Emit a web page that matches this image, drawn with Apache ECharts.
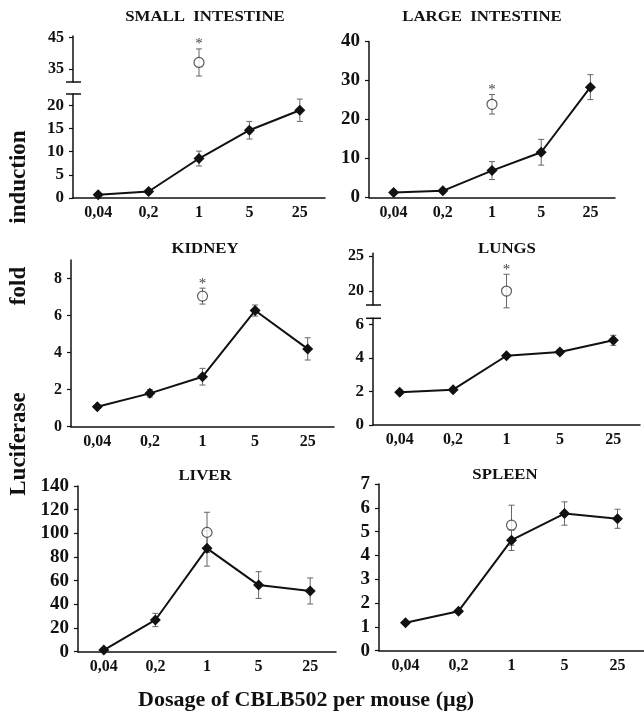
<!DOCTYPE html>
<html>
<head>
<meta charset="utf-8">
<script src="https://cdn.jsdelivr.net/npm/echarts@6/dist/echarts.min.js"></script>
<style>
  html, body { margin: 0; padding: 0; background: #fff; }
  #chart { width: 644px; height: 715px; }
</style>
</head>
<body>
<div id="chart"></div>
<script>
// dose groups, shared by every organ
const doses = ['0,04', '0,2', '1', '5', '25'];

// small intestine
const siMean = [0.7, 1.4, 8.5, 14.6, 18.9];
const siErr = [0, 0, 1.6, 1.9, 2.4];
const siCtrl = [null, null, 37.1, null, null];
const siCtrlErr = [null, null, 4.3, null, null];
const siTicks = [0, 5, 10, 15, 20];
const siUpperTicks = [35, 45];

// large intestine
const liMean = [1.3, 1.7, 6.9, 11.6, 28.3];
const liErr = [0, 0, 2.3, 3.3, 3.2];
const liCtrl = [null, null, 23.9, null, null];
const liCtrlErr = [null, null, 2.5, null, null];
const liTicks = [0, 10, 20, 30, 40];

// kidney
const kidMean = [1.08, 1.8, 2.7, 6.27, 4.2];
const kidErr = [0, 0.2, 0.45, 0.3, 0.6];
const kidCtrl = [null, null, 7.05, null, null];
const kidCtrlErr = [null, null, 0.43, null, null];
const kidTicks = [0, 2, 4, 6, 8];

// lungs
const lungMean = [1.95, 2.1, 4.12, 4.35, 5.04];
const lungErr = [0, 0.1, 0.1, 0.15, 0.3];
const lungCtrl = [null, null, 20, null, null];
const lungCtrlErr = [null, null, 2.4, null, null];
const lungTicks = [0, 2, 4, 6];
const lungUpperTicks = [20, 25];

// liver
const liverMean = [1.4, 26.8, 87.3, 56.3, 51.3];
const liverErr = [0, 5.6, 15, 11.3, 11];
const liverCtrl = [null, null, 100.8, null, null];
const liverCtrlErr = [null, null, 17, null, null];
const liverTicks = [0, 20, 40, 60, 80, 100, 120, 140];

// spleen
const spleenMean = [1.17, 1.66, 4.64, 5.76, 5.54];
const spleenErr = [0, 0, 0.43, 0.49, 0.4];
const spleenCtrl = [null, null, 5.27, null, null];
const spleenCtrlErr = [null, null, 0.84, null, null];
const spleenTicks = [0, 1, 2, 3, 4, 5, 6, 7];

const SERIF = '"Liberation Serif", "Times New Roman", serif';
const INK = '#111';

// one entry per small chart: data + where it sits on the page
const panels = [
  { title: 'SMALL  INTESTINE', mean: siMean, err: siErr, ctrl: siCtrl, ctrlErr: siCtrlErr, star: true,
    ticks: siTicks, yMax: 22.4, yFont: 17, xFont: 16,
    box: { left: 73, top: 94, width: 252, height: 104 },
    upper: { top: 36, height: 46, min: 30.9, max: 45.5, ticks: siUpperTicks, font: 16 },
    titlePos: [205, 16] },
  { title: 'LARGE  INTESTINE', mean: liMean, err: liErr, ctrl: liCtrl, ctrlErr: liCtrlErr, star: true,
    ticks: liTicks, yMax: 40, yFont: 19, xFont: 16,
    box: { left: 369, top: 41.5, width: 246, height: 156 },
    titlePos: [482, 16] },
  { title: 'KIDNEY', mean: kidMean, err: kidErr, ctrl: kidCtrl, ctrlErr: kidCtrlErr, star: true,
    ticks: kidTicks, yMax: 9, yFont: 16, xFont: 16,
    box: { left: 71, top: 260, width: 263, height: 166.7 },
    titlePos: [205, 248] },
  { title: 'LUNGS', mean: lungMean, err: lungErr, ctrl: lungCtrl, ctrlErr: lungCtrlErr, star: true,
    ticks: lungTicks, yMax: 6.35, yFont: 17, xFont: 16,
    box: { left: 373, top: 318.3, width: 267, height: 106.7 },
    upper: { top: 253.3, height: 51.7, min: 18, max: 25.4, ticks: lungUpperTicks, font: 16 },
    titlePos: [507, 248] },
  { title: 'LIVER', mean: liverMean, err: liverErr, ctrl: liverCtrl, ctrlErr: liverCtrlErr, star: false,
    ticks: liverTicks, yMax: 140, yFont: 19, xFont: 16,
    box: { left: 78, top: 486, width: 258, height: 165.7 },
    titlePos: [205, 475] },
  { title: 'SPLEEN', mean: spleenMean, err: spleenErr, ctrl: spleenCtrl, ctrlErr: spleenCtrlErr, star: false,
    ticks: spleenTicks, yMax: 7, yFont: 19, xFont: 16,
    box: { left: 379, top: 484, width: 268, height: 166.7 },
    titlePos: [505, 474] }
];

// vertical error bar with small caps, optional asterisk above it
function errorBar(withStar) {
  return function (params, api) {
    const i = api.value(0), v = api.value(1), e = api.value(2);
    if (!e) return null;
    const hi = api.coord([i, v + e]);
    const lo = api.coord([i, v - e]);
    const st = { stroke: '#666', lineWidth: 1 };
    const kids = [
      { type: 'line', shape: { x1: hi[0], y1: hi[1], x2: lo[0], y2: lo[1] }, style: st },
      { type: 'line', shape: { x1: hi[0] - 3, y1: hi[1], x2: hi[0] + 3, y2: hi[1] }, style: st },
      { type: 'line', shape: { x1: lo[0] - 3, y1: lo[1], x2: lo[0] + 3, y2: lo[1] }, style: st }
    ];
    if (withStar) {
      kids.push({ type: 'text', style: { text: '*', x: hi[0], y: hi[1] + 3, align: 'center',
        verticalAlign: 'bottom', fontSize: 15, fontFamily: SERIF, fill: '#444' } });
    }
    return { type: 'group', children: kids };
  };
}

function toTriples(vals, errs) {
  const out = [];
  vals.forEach((v, i) => { if (v != null) out.push([i, v, errs[i]]); });
  return out;
}

const option = { animation: false, backgroundColor: '#fff', grid: [], xAxis: [], yAxis: [], series: [], graphic: [] };

function yAxisDef(gi, min, max, ticks, font) {
  return {
    type: 'value', gridIndex: gi, min: min, max: max,
    splitLine: { show: false },
    axisLine: { show: true, lineStyle: { color: INK, width: 1.5 } },
    axisTick: { show: true, length: 4, customValues: ticks, lineStyle: { color: INK, width: 1.2 } },
    axisLabel: { customValues: ticks, fontFamily: SERIF, fontWeight: 'bold', fontSize: font, color: INK, margin: 9 }
  };
}

panels.forEach(p => {
  const gi = option.grid.length;
  option.grid.push({ left: p.box.left, top: p.box.top, width: p.box.width, height: p.box.height });
  option.xAxis.push({
    type: 'category', gridIndex: gi, data: doses, boundaryGap: true,
    axisLine: { lineStyle: { color: INK, width: 1.5 } },
    axisTick: { length: 4, lineStyle: { color: INK, width: 1.2 } },
    axisLabel: { fontFamily: SERIF, fontWeight: 'bold', fontSize: p.xFont, color: INK, margin: 7 }
  });
  option.yAxis.push(yAxisDef(gi, 0, p.yMax, p.ticks, p.yFont));

  let ci = gi;
  if (p.upper) {
    ci = option.grid.length;
    option.grid.push({ left: p.box.left, top: p.upper.top, width: p.box.width, height: p.upper.height });
    option.xAxis.push({ type: 'category', gridIndex: ci, data: doses, boundaryGap: true, show: false });
    option.yAxis.push(yAxisDef(ci, p.upper.min, p.upper.max, p.upper.ticks, p.upper.font));
    // break marks across the y axis
    const bx = p.box.left;
    [p.upper.top + p.upper.height, p.box.top].forEach(y => {
      option.graphic.push({ type: 'line', shape: { x1: bx - 7, y1: y, x2: bx + 8, y2: y },
        style: { stroke: INK, lineWidth: 1.5 } });
    });
  }

  option.series.push({
    type: 'custom', xAxisIndex: gi, yAxisIndex: gi, clip: false, z: 2,
    renderItem: errorBar(false), data: toTriples(p.mean, p.err)
  });
  option.series.push({
    type: 'line', xAxisIndex: gi, yAxisIndex: gi, data: p.mean, z: 3,
    symbol: 'diamond', symbolSize: 11,
    lineStyle: { color: INK, width: 2 }, itemStyle: { color: INK }
  });
  option.series.push({
    type: 'custom', xAxisIndex: ci, yAxisIndex: ci, clip: false, z: 2,
    renderItem: errorBar(p.star), data: toTriples(p.ctrl, p.ctrlErr)
  });
  option.series.push({
    type: 'scatter', xAxisIndex: ci, yAxisIndex: ci, data: p.ctrl, z: 4,
    symbol: 'circle', symbolSize: 10,
    itemStyle: { color: '#fff', borderColor: '#333', borderWidth: 1.2 }
  });

  option.graphic.push({ type: 'text', x: p.titlePos[0], y: p.titlePos[1] + 1, scaleX: 1.2,
    style: { text: p.title, align: 'center', verticalAlign: 'middle', fontFamily: SERIF,
      fontWeight: 'bold', fontSize: 14, fill: INK } });
});

// shared axis titles
[['induction', 177], ['fold', 286], ['Luciferase', 444]].forEach(w => {
  option.graphic.push({ type: 'text', x: 19, y: w[1], rotation: Math.PI / 2,
    style: { text: w[0], align: 'center', verticalAlign: 'middle', fontFamily: SERIF,
      fontWeight: 'bold', fontSize: 23, fill: INK } });
});
option.graphic.push({ type: 'text', x: 306, y: 700,
  style: { text: 'Dosage of CBLB502 per mouse (µg)', align: 'center', verticalAlign: 'middle',
    fontFamily: SERIF, fontWeight: 'bold', fontSize: 22, fill: INK } });

const chart = echarts.init(document.getElementById('chart'), null, { renderer: 'canvas' });
chart.setOption(option);
</script>
</body>
</html>
